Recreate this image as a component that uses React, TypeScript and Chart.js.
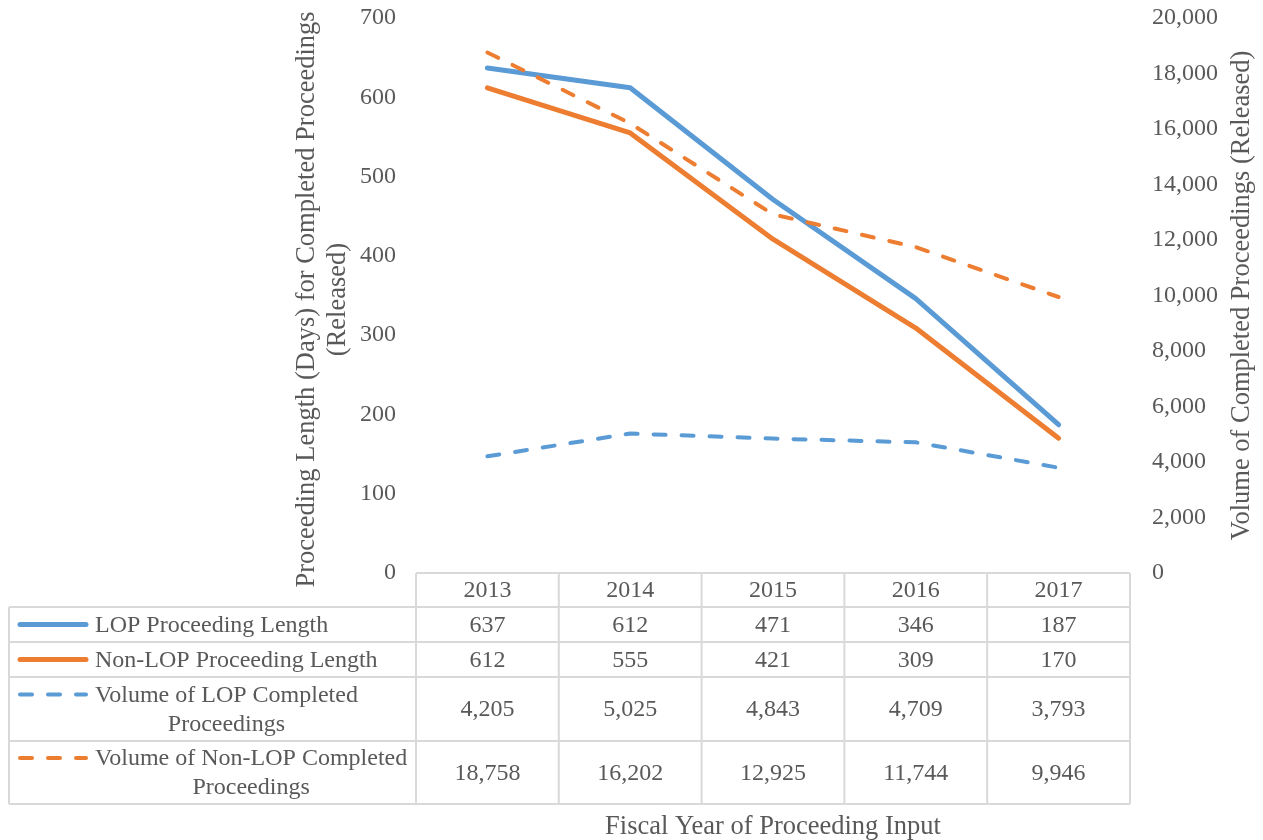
import React, { useEffect, useRef } from "react";
import { Chart, registerables } from "chart.js";

Chart.register(...registerables);

// ---- data ----
const years = ["2013", "2014", "2015", "2016", "2017"];
const lopLength = [637, 612, 471, 346, 187];
const nonLopLength = [612, 555, 421, 309, 170];
const lopVolume = [4205, 5025, 4843, 4709, 3793];
const nonLopVolume = [18758, 16202, 12925, 11744, 9946];
const seriesLabels = [
  ["LOP Proceeding Length"],
  ["Non-LOP Proceeding Length"],
  ["Volume of LOP Completed", "Proceedings"],
  ["Volume of Non-LOP Completed", "Proceedings"],
];
const leftAxisMax = 700;
const leftAxisStep = 100;
const rightAxisMax = 20000;
const rightAxisStep = 2000;
const leftTitle = ["Proceeding Length (Days) for Completed Proceedings", "(Released)"];
const rightTitle = "Volume of Completed Proceedings (Released)";
const xTitle = "Fiscal Year of Proceeding Input";

// ---- styles ----
const FONT = "'Liberation Serif', 'Times New Roman', serif";
const TEXT = "#595959";
const BLUE = "#5B9BD5";
const ORANGE = "#ED7D31";
const GRID = "#D9D9D9";
const DASH = [12, 16];

const seriesStyles = [
  { color: BLUE, dash: [] as number[], width: 5 },
  { color: ORANGE, dash: [] as number[], width: 5 },
  { color: BLUE, dash: DASH, width: 4 },
  { color: ORANGE, dash: DASH, width: 4 },
];
const seriesData = [lopLength, nonLopLength, lopVolume, nonLopVolume];

const fmt = (v: number) => v.toLocaleString("en-US");

const tablePlugin = {
  id: "dataTable",
  afterDraw(chart: any) {
    const { ctx, chartArea } = chart;
    const x = chart.scales.x;
    const centers = years.map((_, i) => x.getPixelForValue(i));
    const colW = centers.length > 1 ? centers[1] - centers[0] : chartArea.width;
    const bounds = [centers[0] - colW / 2, ...centers.map((c) => c + colW / 2)];
    const tableLeft = 9;
    const headerH = 34;
    const rowHs = [35, 35, 64, 63];
    const top = chartArea.bottom;
    const edges = [top, top + headerH];
    rowHs.forEach((h) => edges.push(edges[edges.length - 1] + h));
    const bottom = edges[edges.length - 1];
    const right = bounds[bounds.length - 1];

    ctx.save();
    ctx.strokeStyle = GRID;
    ctx.lineWidth = 2;
    ctx.beginPath();
    ctx.moveTo(bounds[0], top);
    ctx.lineTo(right, top);
    for (let i = 1; i < edges.length; i++) {
      ctx.moveTo(tableLeft, edges[i]);
      ctx.lineTo(right, edges[i]);
    }
    ctx.moveTo(tableLeft, edges[1]);
    ctx.lineTo(tableLeft, bottom);
    bounds.forEach((b) => {
      ctx.moveTo(b, top);
      ctx.lineTo(b, bottom);
    });
    ctx.stroke();

    ctx.fillStyle = TEXT;
    ctx.font = `24px ${FONT}`;
    ctx.textAlign = "center";
    ctx.textBaseline = "middle";
    years.forEach((y, i) => ctx.fillText(y, centers[i], top + headerH / 2 + 1));

    seriesData.forEach((data, r) => {
      const y0 = edges[r + 1];
      const y1 = edges[r + 2];
      const cy = (y0 + y1) / 2 + 1;
      data.forEach((v, i) => ctx.fillText(fmt(v), centers[i], cy));

      const lines = seriesLabels[r];
      const lh = 29;
      const firstY = cy - ((lines.length - 1) * lh) / 2;
      const maxW = Math.max(...lines.map((l) => ctx.measureText(l).width));
      const textX = 95 + maxW / 2;
      lines.forEach((l, k) => ctx.fillText(l, textX, firstY + k * lh));

      const st = seriesStyles[r];
      ctx.save();
      ctx.strokeStyle = st.color;
      ctx.lineWidth = st.width;
      ctx.lineCap = "round";
      ctx.setLineDash(st.dash);
      ctx.beginPath();
      ctx.moveTo(20, firstY - 1);
      ctx.lineTo(86, firstY - 1);
      ctx.stroke();
      ctx.restore();
    });

    ctx.font = `26.5px ${FONT}`;
    ctx.fillStyle = TEXT;
    ctx.textAlign = "center";
    ctx.textBaseline = "alphabetic";
    ctx.fillText(xTitle, (chartArea.left + chartArea.right) / 2, 834);

    const midY = (chartArea.top + chartArea.bottom) / 2;
    ctx.textBaseline = "middle";
    ctx.save();
    ctx.translate(307, midY + 4);
    ctx.rotate(-Math.PI / 2);
    ctx.fillText(leftTitle[0], 0, 0);
    ctx.fillText(leftTitle[1], 0, 31);
    ctx.restore();

    ctx.save();
    ctx.translate(1242, midY);
    ctx.rotate(-Math.PI / 2);
    ctx.fillText(rightTitle, 0, 0);
    ctx.restore();
    ctx.restore();
  },
};

export default function App() {
  const ref = useRef<HTMLCanvasElement | null>(null);
  useEffect(() => {
    if (!ref.current) return;
    const tickFont = { family: FONT, size: 24 };
    const chart = new Chart(ref.current, {
      type: "line",
      data: {
        labels: years,
        datasets: seriesData.map((d, i) => ({
          label: seriesLabels[i].join(" "),
          data: d,
          yAxisID: i < 2 ? "y" : "y1",
          borderColor: seriesStyles[i].color,
          backgroundColor: seriesStyles[i].color,
          borderWidth: seriesStyles[i].width,
          borderDash: seriesStyles[i].dash,
          borderCapStyle: "round",
          borderJoinStyle: "round",
          pointRadius: 0,
          tension: 0,
          fill: false,
          order: 4 - i,
        })),
      },
      options: {
        responsive: false,
        animation: false,
        devicePixelRatio: 1,
        layout: { padding: { left: 0, right: 0, top: 18, bottom: 267 } },
        plugins: { legend: { display: false }, tooltip: { enabled: false } },
        scales: {
          x: { type: "category", display: false, offset: true },
          y: {
            position: "left",
            min: 0,
            max: leftAxisMax,
            ticks: { stepSize: leftAxisStep, font: tickFont, color: TEXT, padding: 20 },
            grid: { display: false, drawTicks: false },
            border: { display: false },
            afterFit: (s: any) => {
              s.width = 416;
              s.paddingTop = 0;
              s.paddingBottom = 0;
            },
          },
          y1: {
            position: "right",
            min: 0,
            max: rightAxisMax,
            ticks: {
              stepSize: rightAxisStep,
              font: tickFont,
              color: TEXT,
              padding: 22,
              callback: (v: any) => fmt(Number(v)),
            },
            grid: { display: false, drawTicks: false },
            border: { display: false },
            afterFit: (s: any) => {
              s.width = 133;
              s.paddingTop = 0;
              s.paddingBottom = 0;
            },
          },
        },
      },
      plugins: [tablePlugin],
    } as any);
    return () => chart.destroy();
  }, []);
  return (
    <div style={{ position: "fixed", left: 0, top: 0, width: 1263, height: 840, background: "#fff" }}>
      <canvas ref={ref} width={1263} height={840} style={{ display: "block" }} />
    </div>
  );
}
